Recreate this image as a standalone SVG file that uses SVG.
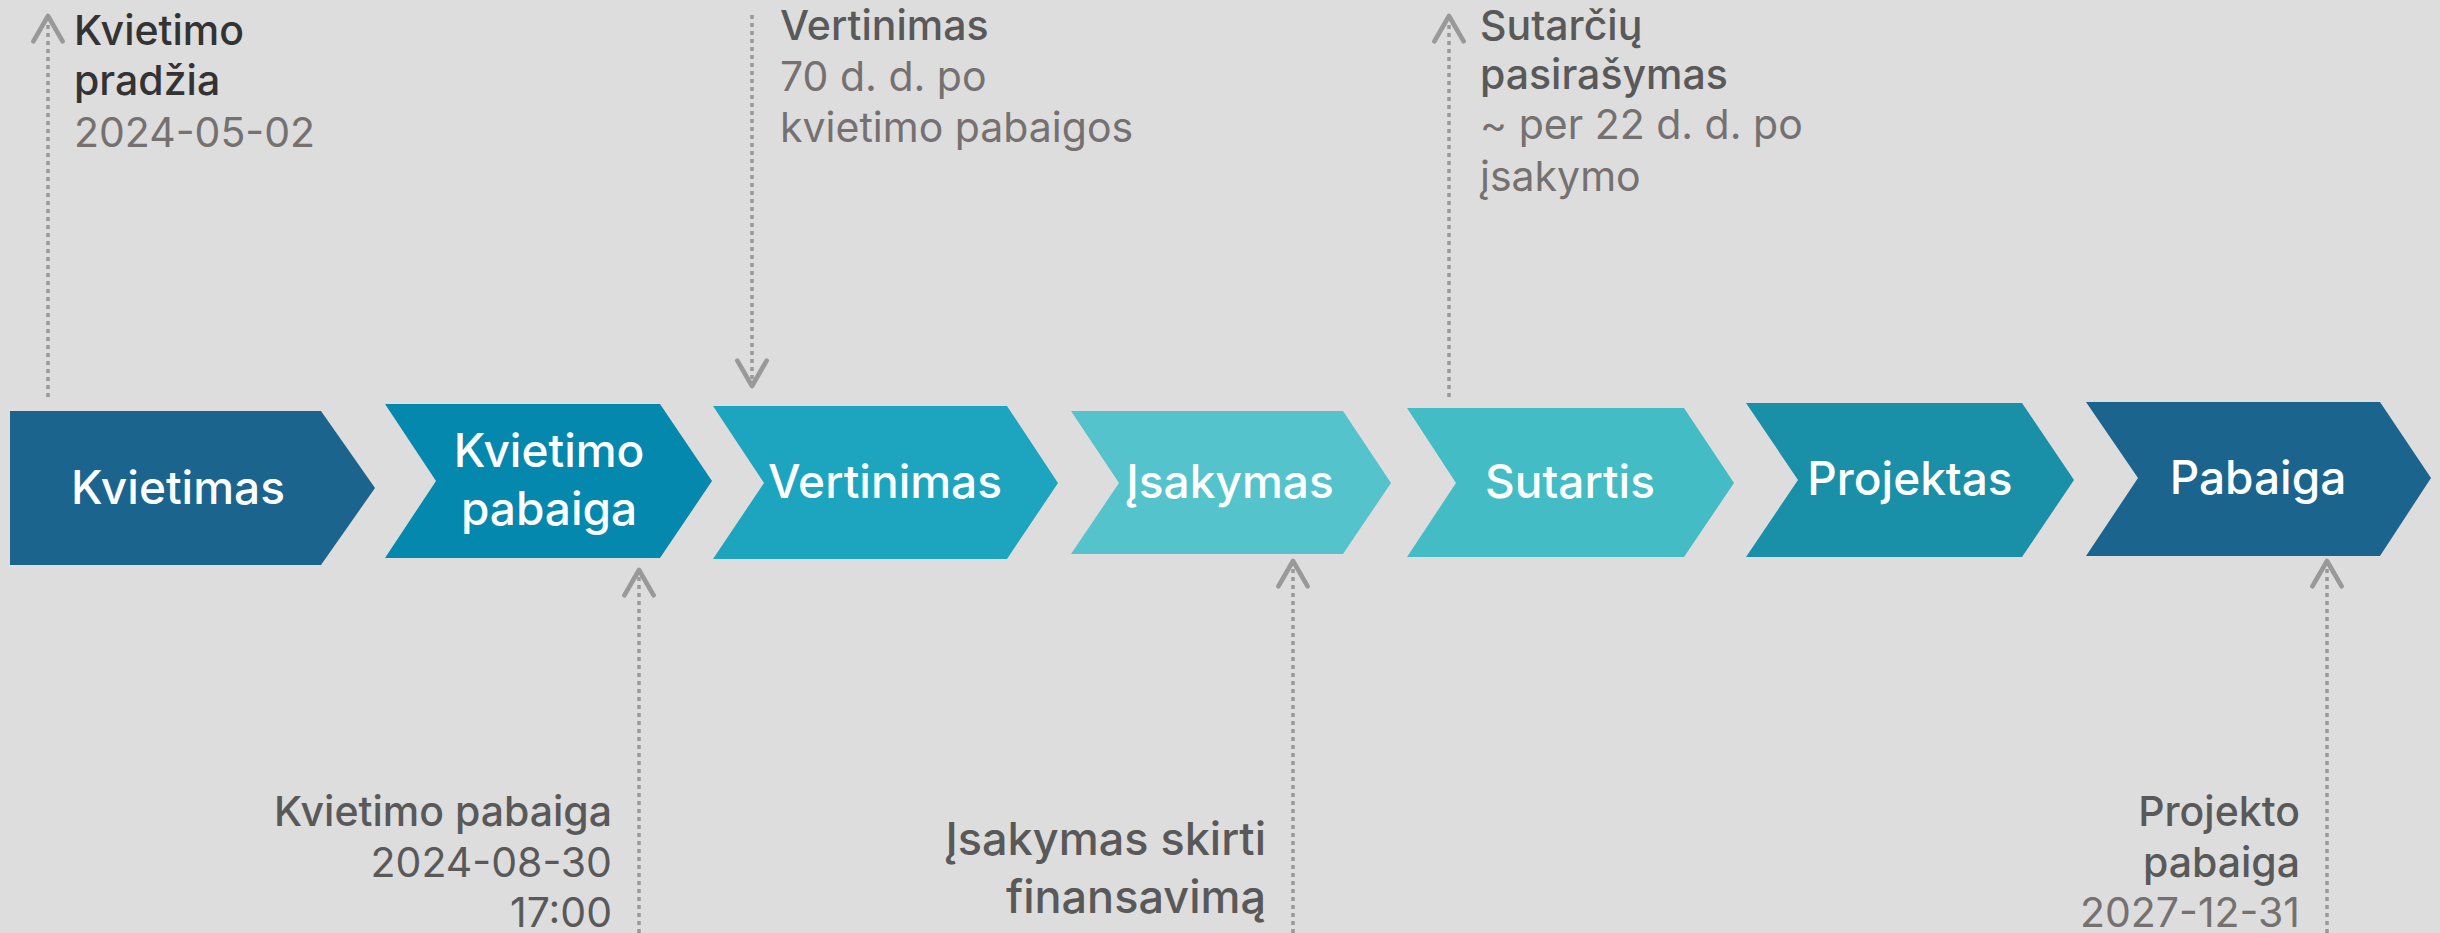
<svg xmlns="http://www.w3.org/2000/svg" width="2440" height="933" viewBox="0 0 2440 933">
<style>
.bg{fill:#DDDDDD}
.ch{stroke:none}
.cl{font-family:Inter,"Liberation Sans",sans-serif;font-size:46px;font-weight:500;fill:#FFFFFF;text-anchor:middle}
.an{font-family:Inter,"Liberation Sans",sans-serif;font-size:41px}
.t1{font-weight:500;fill:#595959}
.t0{font-weight:500;fill:#333333}
.sub{font-weight:400;fill:#767171}
.sub2{font-weight:400;fill:#595959}
.end{text-anchor:end}
.conn{fill:none;stroke:#999999;stroke-width:3.5;stroke-dasharray:4 4}
.ah{fill:none;stroke:#999999;stroke-width:3.5;stroke-dasharray:none;stroke-linecap:round;stroke-linejoin:round}
</style>
<defs>
<marker id="arr" markerUnits="userSpaceOnUse" markerWidth="40" markerHeight="40" viewBox="-25 -15 30 30" refX="0" refY="0" orient="auto" overflow="visible">
<path class="ah" d="M -19 -11 L 0 0 L -19 11"/>
</marker>
</defs>
<rect class="bg" x="0" y="0" width="2440" height="933"/>
<g id="connectors">
<line class="conn" x1="48" y1="397" x2="48" y2="16" marker-end="url(#arr)"/>
<line class="conn" x1="752" y1="15" x2="752" y2="386" marker-end="url(#arr)"/>
<line class="conn" x1="1449" y1="397" x2="1449" y2="16" marker-end="url(#arr)"/>
<line class="conn" x1="639" y1="933" x2="639" y2="570" marker-end="url(#arr)"/>
<line class="conn" x1="1293" y1="933" x2="1293" y2="561" marker-end="url(#arr)"/>
<line class="conn" x1="2327" y1="933" x2="2327" y2="561" marker-end="url(#arr)"/>
</g>
<g id="node-kvietimas">
<polygon class="ch" fill="#1B648E" points="10,411 321,411 375,488 321,565 10,565"/>
<text class="cl" x="178" y="504">Kvietimas</text>
</g>
<g id="node-kvietimo-pabaiga">
<polygon class="ch" fill="#0488AD" points="385,404 660,404 712,481 660,558 385,558 436,481"/>
<text class="cl" x="549" y="467">Kvietimo</text>
<text class="cl" x="549" y="525">pabaiga</text>
</g>
<g id="node-vertinimas">
<polygon class="ch" fill="#1DA5BF" points="713,406 1007,406 1058,483 1007,559 713,559 764,483"/>
<text class="cl" x="885" y="498">Vertinimas</text>
</g>
<g id="node-isakymas">
<polygon class="ch" fill="#55C3CB" points="1071,411 1343,411 1391,483 1343,554 1071,554 1119,483"/>
<text class="cl" x="1230" y="498">Įsakymas</text>
</g>
<g id="node-sutartis">
<polygon class="ch" fill="#43BCC5" points="1407,408 1684,408 1734,483 1684,557 1407,557 1456,483"/>
<text class="cl" x="1570" y="498">Sutartis</text>
</g>
<g id="node-projektas">
<polygon class="ch" fill="#1A8FA8" points="1746,403 2022,403 2074,480 2022,557 1746,557 1798,480"/>
<text class="cl" x="1910" y="495">Projektas</text>
</g>
<g id="node-pabaiga">
<polygon class="ch" fill="#1A648E" points="2086,402 2380,402 2431,478 2380,556 2086,556 2138,478"/>
<text class="cl" x="2258" y="494">Pabaiga</text>
</g>
<g id="note-kvietimo-pradzia">
<text class="an t0" x="74" y="45">Kvietimo</text>
<text class="an t0" x="74" y="95">pradžia</text>
<text class="an sub" x="74" y="147">2024-05-02</text>
</g>
<g id="note-vertinimas">
<text class="an t1" x="780" y="40">Vertinimas</text>
<text class="an sub" x="780" y="91">70 d. d. po</text>
<text class="an sub" x="780" y="142">kvietimo pabaigos</text>
</g>
<g id="note-sutarciu">
<text class="an t1" x="1480" y="40">Sutarčių</text>
<text class="an t1" x="1480" y="89">pasirašymas</text>
<text class="an sub" x="1480" y="139">~ per 22 d. d. po</text>
<text class="an sub" x="1480" y="191">įsakymo</text>
</g>
<g id="note-kvietimo-pabaiga">
<text class="an t1 end" x="612" y="826">Kvietimo pabaiga</text>
<text class="an sub2 end" x="612" y="877">2024-08-30</text>
<text class="an sub2 end" x="612" y="927">17:00</text>
</g>
<g id="note-isakymas">
<text class="an t1 end" x="1266" y="855" style="font-size:45px">Įsakymas skirti</text>
<text class="an t1 end" x="1266" y="913" style="font-size:45px">finansavimą</text>
</g>
<g id="note-projekto-pabaiga">
<text class="an t1 end" x="2300" y="826">Projekto</text>
<text class="an t1 end" x="2300" y="877">pabaiga</text>
<text class="an sub end" x="2300" y="927">2027-12-31</text>
</g>
</svg>
